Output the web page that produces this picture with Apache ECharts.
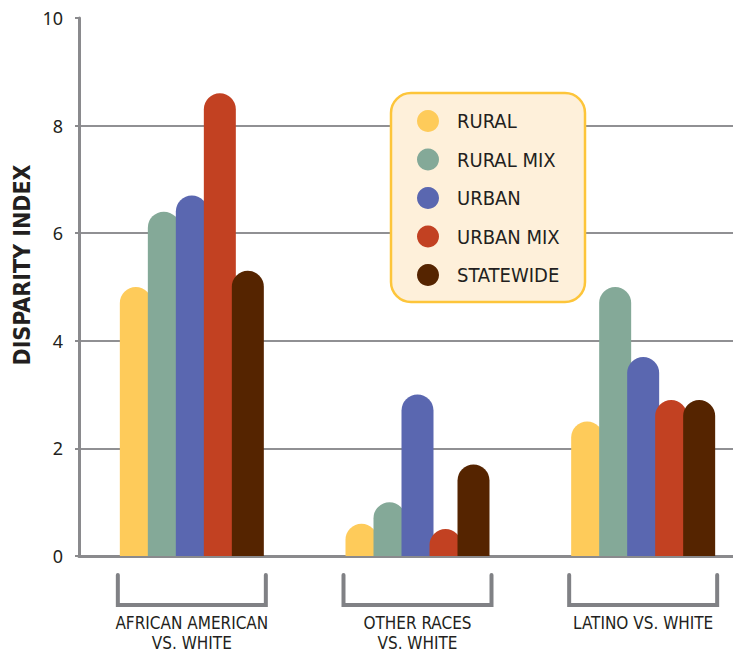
<!DOCTYPE html>
<html>
<head>
<meta charset="utf-8">
<script src="https://cdn.jsdelivr.net/npm/echarts@6/dist/echarts.min.js"></script>
<style>
  html, body { margin: 0; padding: 0; background: #ffffff; }
  #chart { width: 733px; height: 653px; }
</style>
</head>
<body>
<div id="chart"></div>
<script>
// Disparity index by region type, for three comparison groups
const categories = ['AFRICAN AMERICAN\nVS. WHITE', 'OTHER RACES\nVS. WHITE', 'LATINO VS. WHITE'];
const seriesNames = ['RURAL', 'RURAL MIX', 'URBAN', 'URBAN MIX', 'STATEWIDE'];
const rural     = [5.0, 0.6, 2.5];
const ruralMix  = [6.4, 1.0, 5.0];
const urban     = [6.7, 3.0, 3.7];
const urbanMix  = [8.6, 0.5, 2.9];
const statewide = [5.3, 1.7, 2.9];
const yTicks = [0, 2, 4, 6, 8, 10];

const seriesValues = [rural, ruralMix, urban, urbanMix, statewide];
const colors = ['#FECB5A', '#84A998', '#5A67B0', '#C24122', '#552400'];
const condensed = "'Liberation Sans Narrow', 'DejaVu Sans Condensed', 'Roboto', sans-serif";
const axisGray = '#8a8a8d';

const chart = echarts.init(document.getElementById('chart'), null, { renderer: 'svg' });

const option = {
  animation: false,
  backgroundColor: '#ffffff',
  grid: { left: 79, top: 18, height: 538, width: 677, containLabel: false, outerBoundsMode: 'none' },
  xAxis: {
    type: 'category',
    data: categories,
    axisLine: { show: true, lineStyle: { color: axisGray, width: 3 } },
    axisTick: { show: false },
    axisLabel: {
      interval: 0,
      margin: 57,
      fontFamily: condensed,
      fontSize: 17,
      lineHeight: 20,
      color: '#231f20'
    }
  },
  yAxis: {
    type: 'value',
    min: yTicks[0],
    max: yTicks[yTicks.length - 1],
    interval: yTicks[1] - yTicks[0],
    name: 'DISPARITY INDEX',
    nameLocation: 'middle',
    nameGap: 46,
    nameMoveOverlap: false,
    nameTextStyle: {
      fontFamily: condensed,
      fontWeight: 'bold',
      fontSize: 23,
      color: '#231f20',
      padding: [0, 0, 0, 44]
    },
    axisLine: { show: true, lineStyle: { color: axisGray, width: 3 } },
    axisTick: { show: true, length: 4, lineStyle: { color: axisGray, width: 2 } },
    axisLabel: {
      margin: 16,
      fontFamily: "'Noto Sans', 'Open Sans', sans-serif",
      fontSize: 18,
      color: '#231f20'
    },
    splitLine: { show: true, showMaxLine: false, lineStyle: { color: '#909093', width: 2 } }
  },
  legend: {
    data: seriesNames,
    orient: 'vertical',
    left: 417,
    top: 110,
    padding: 0,
    icon: 'circle',
    itemWidth: 22,
    itemHeight: 22,
    itemGap: 16.5,
    z: 5,
    textStyle: {
      fontFamily: condensed,
      fontSize: 20,
      color: '#231f20',
      padding: [0, 0, 0, 13]
    }
  },
  graphic: [{
    type: 'rect',
    z: 1,
    shape: { x: 391, y: 93, width: 194, height: 209, r: 20 },
    style: { fill: '#FEF0DA', stroke: '#FDC53A', lineWidth: 2.5 }
  }],
  series: seriesNames.map((name, i) => ({
    name: name,
    type: 'bar',
    data: seriesValues[i],
    barWidth: 32,
    barGap: '-12.5%',
    itemStyle: { color: colors[i], borderRadius: [16, 16, 0, 0] }
  }))
};

chart.setOption(option);

// Grey brackets under each category group, positioned from the category axis
const brackets = categories.map((c, i) => {
  const cx = chart.convertToPixel({ xAxisIndex: 0 }, i);
  const half = 74;
  return {
    type: 'polyline',
    z: 2,
    shape: { points: [[cx - half, 575], [cx - half, 605], [cx + half, 605], [cx + half, 575]] },
    style: { stroke: '#808185', lineWidth: 4, fill: null, lineJoin: 'miter', lineCap: 'round' }
  };
});
chart.setOption({ graphic: option.graphic.concat(brackets) });
</script>
</body>
</html>
